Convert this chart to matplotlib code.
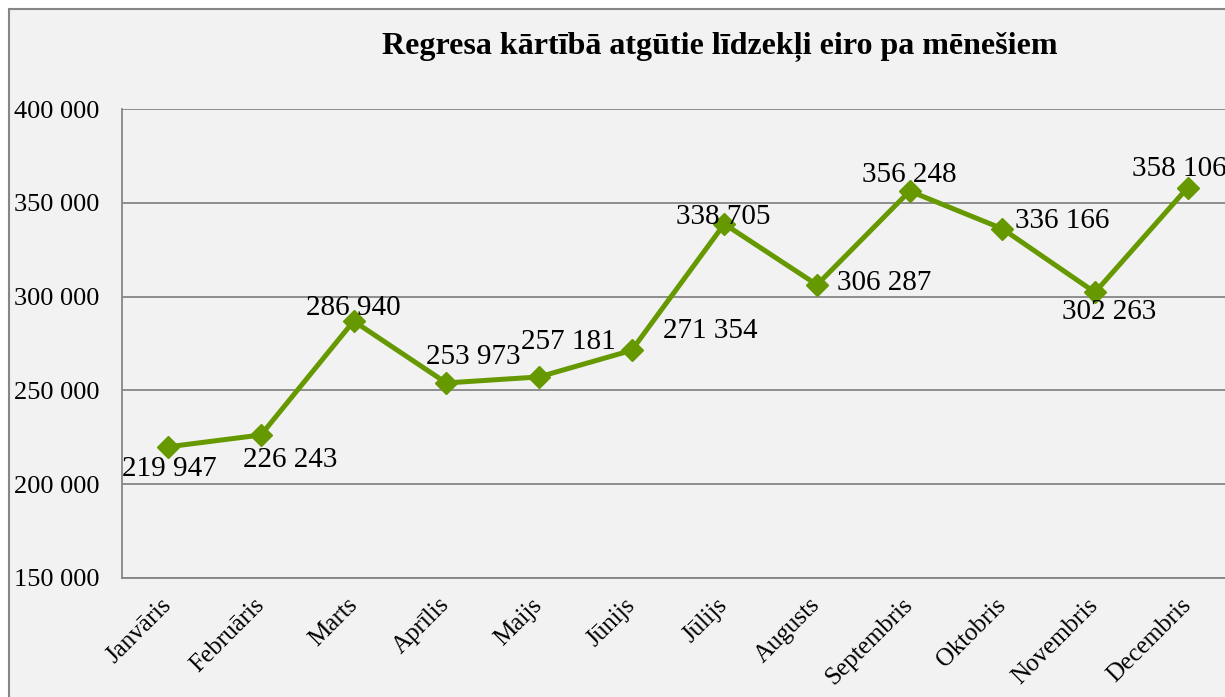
import matplotlib
matplotlib.use("Agg")
import matplotlib.pyplot as plt
from matplotlib.patches import Rectangle
from matplotlib.ticker import FuncFormatter

months = ["Janvāris", "Februāris", "Marts", "Aprīlis", "Maijs", "Jūnijs",
          "Jūlijs", "Augusts", "Septembris", "Oktobris", "Novembris", "Decembris"]
values = [219947, 226243, 286940, 253973, 257181, 271354,
          338705, 306287, 356248, 336166, 302263, 358106]
title = "Regresa kārtībā atgūtie līdzekļi eiro pa mēnešiem"
y_ticks = [150000, 200000, 250000, 300000, 350000, 400000]

# label offsets in pixels (dx, dy) relative to each point
label_offsets = [(1, -22), (29, -25), (0, 13), (27, 26), (29, 35), (79, 19),
                 (-1, 7), (67, 2), (0, 16), (60, 8), (14, -20), (-8, 19)]

plt.rcParams['font.family'] = ['Liberation Serif', 'DejaVu Serif']

W, H = 1225, 697
fig = plt.figure(figsize=(W / 100, H / 100), dpi=100)
fig.patch.set_facecolor('white')
fig.patches.append(Rectangle((9 / W, -0.1), 1.2, 1 - 9 / H + 0.1,
                             transform=fig.transFigure, facecolor='#f2f2f2',
                             edgecolor='#868686', linewidth=1.5, zorder=-10))

ax = fig.add_axes([122 / W, (H - 578) / H, (1234 - 122) / W, (578 - 109) / H])
ax.set_zorder(1)
ax.set_facecolor('#f2f2f2')
x = list(range(len(months)))
ax.plot(x, values, color='#669900', linewidth=3.6, marker='D', markersize=11,
        zorder=3, clip_on=False)
ax.set_xlim(-0.5, len(months) - 0.5)
ax.set_ylim(y_ticks[0], y_ticks[-1])
ax.set_yticks(y_ticks)
ax.yaxis.set_major_formatter(FuncFormatter(lambda v, p: f"{int(v):,}".replace(",", " ")))
ax.grid(axis='y', color='#868686', linewidth=1.3)
ax.set_axisbelow(True)
for s in ['top', 'right']:
    ax.spines[s].set_visible(False)
for s in ['left', 'bottom']:
    ax.spines[s].set_color('#868686')
    ax.spines[s].set_linewidth(1.3)
ax.tick_params(axis='y', length=0, pad=16.5, labelsize=19)
ax.tick_params(axis='x', length=0, pad=17)
ax.set_xticks(x)
ax.set_xticklabels(months, rotation=45, ha='right', va='center',
                   rotation_mode='anchor', fontsize=18)

for xi, v, (dx, dy) in zip(x, values, label_offsets):
    ax.annotate(f"{v:,}".replace(",", " "), (xi, v), xytext=(dx, dy),
                textcoords='offset pixels', ha='center', va='center',
                fontsize=21, color='black', zorder=4, annotation_clip=False)

fig.text(720 / W, 1 - 47 / H, title, ha='center', va='center',
         fontsize=23, fontweight='bold')

fig.savefig('out.png', dpi=100)
